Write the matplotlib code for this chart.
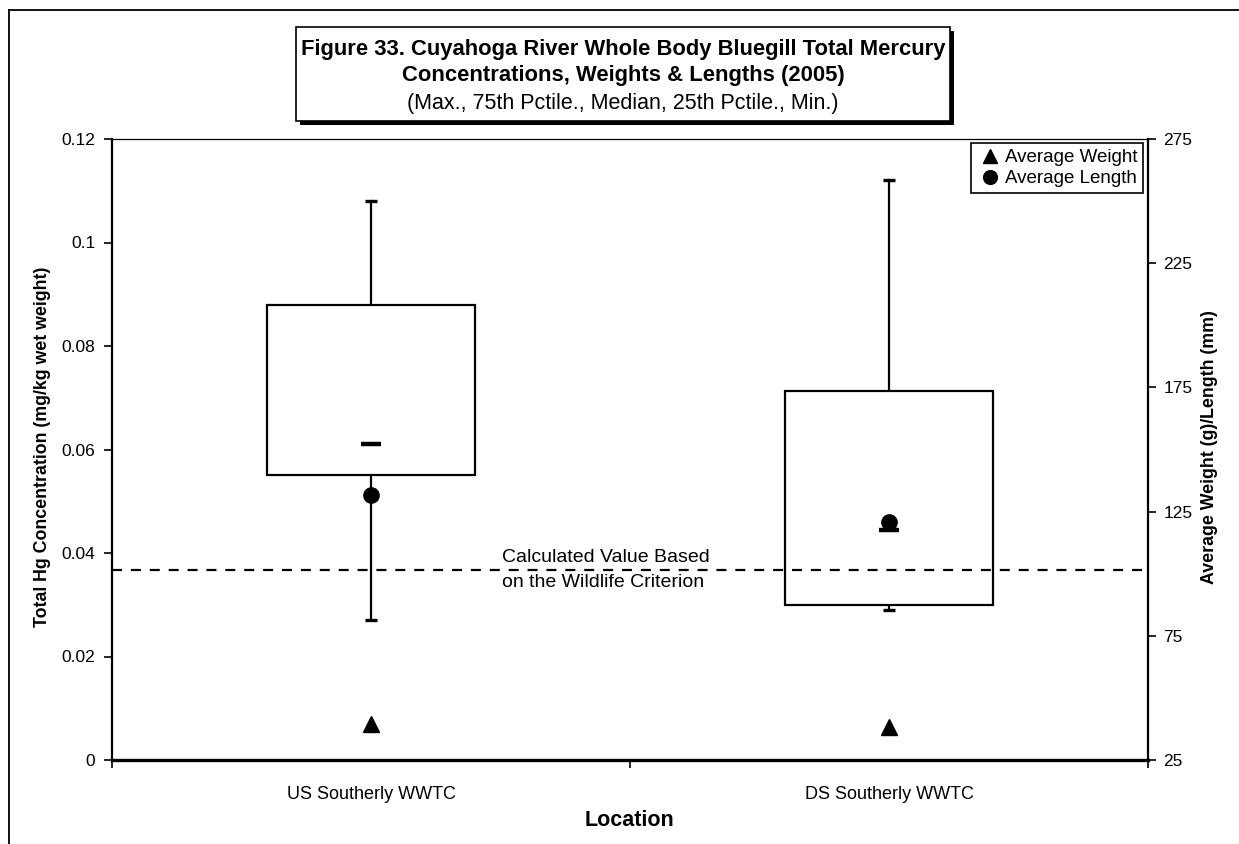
import matplotlib
matplotlib.use('Agg')
import matplotlib.pyplot as plt
from matplotlib.patches import Rectangle
from matplotlib.lines import Line2D

# ---- data ----
locations = ["US Southerly WWTC", "DS Southerly WWTC"]
hg_max = [0.108, 0.112]
hg_q75 = [0.088, 0.0713]
hg_median = [0.061, 0.0445]
hg_q25 = [0.055, 0.0300]
hg_min = [0.027, 0.029]
avg_weight = [39.6, 38.3]
avg_length = [131.6, 121.0]
criterion = 0.0367
left_ticks = [0, 0.02, 0.04, 0.06, 0.08, 0.1, 0.12]
left_tick_labels = ["0", "0.02", "0.04", "0.06", "0.08", "0.1", "0.12"]
right_ticks = [25, 75, 125, 175, 225, 275]

plt.rcParams['font.family'] = ['Liberation Sans', 'DejaVu Sans']

W, H = 1239, 844
fig = plt.figure(figsize=(W / 100, H / 100), dpi=100)
ax = fig.add_axes([112 / W, 1 - 760 / H, (1148 - 112) / W, (760 - 139) / H])
ax.set_xlim(0, 2)
ax.set_ylim(0, 0.12)

pos = [0.5, 1.5]
bw = 0.4
for i, p in enumerate(pos):
    ax.plot([p, p], [hg_q75[i], hg_max[i]], color='black', lw=1.6, zorder=1)
    ax.plot([p, p], [hg_min[i], hg_q25[i]], color='black', lw=1.6, zorder=1)
    ax.add_patch(Rectangle((p - bw / 2, hg_q25[i]), bw, hg_q75[i] - hg_q25[i],
                           facecolor='white', edgecolor='black', lw=1.6, zorder=2))
    ax.plot([p, p], [hg_max[i], hg_min[i]], linestyle='none', marker='_',
            markersize=8, mew=2.4, color='black', zorder=3)
    ax.plot([p], [hg_median[i]], linestyle='none', marker='_',
            markersize=15, mew=3.2, color='black', zorder=3)

ax.axhline(criterion, color='black', lw=1.6, linestyle=(0, (4.5, 4)), zorder=4)
ax.text(0.753, 0.0383, "Calculated Value Based", fontsize=14, va='baseline', ha='left', zorder=5)
ax.text(0.753, 0.0334, "on the Wildlife Criterion", fontsize=14, va='baseline', ha='left', zorder=5)

ax.set_yticks(left_ticks)
ax.set_yticklabels(left_tick_labels)
ax.set_xticks([0, 1, 2])
ax.set_xticklabels([])
ax.set_xticks(pos, minor=True)
ax.set_xticklabels(locations, minor=True)
ax.tick_params(axis='y', direction='out', length=6, width=1.2, labelsize=12.5, pad=6)
ax.tick_params(axis='x', which='major', direction='out', length=6, width=1.2)
ax.tick_params(axis='x', which='minor', length=0, labelsize=13, pad=19)

ax.spines['left'].set_linewidth(1.6)
ax.spines['bottom'].set_linewidth(2.4)
ax.spines['top'].set_linewidth(0.9)
ax.spines['right'].set_visible(False)

ax2 = ax.twinx()
ax2.set_ylim(25, 275)
ax2.set_yticks(right_ticks)
ax2.tick_params(axis='y', direction='out', length=6, width=1.2, labelsize=12.5, pad=5)
for s in ['left', 'top', 'bottom']:
    ax2.spines[s].set_visible(False)
ax2.spines['right'].set_linewidth(1.6)

ax2.plot(pos, avg_weight, linestyle='none', marker='^', markersize=11, color='black',
         label='Average Weight', zorder=6)
ax2.plot(pos, avg_length, linestyle='none', marker='o', markersize=11, color='black',
         label='Average Length', zorder=6)
leg = ax2.legend(loc='upper right', bbox_to_anchor=(0.995, 0.993), borderaxespad=0,
                 fontsize=13.5, frameon=True, fancybox=False, edgecolor='black',
                 framealpha=1, handlelength=1.4, handletextpad=0.1, borderpad=0.3,
                 labelspacing=0.22, markerscale=0.9)
leg.get_frame().set_linewidth(1.2)

# axis titles
fig.text(43 / W, 1 - 447 / H, "Total Hg Concentration (mg/kg wet weight)", rotation=90,
         ha='center', va='center', fontsize=12.8, fontweight='bold')
fig.text(1210 / W, 1 - 447 / H, "Average Weight (g)/Length (mm)", rotation=90,
         ha='center', va='center', fontsize=12.8, fontweight='bold')
fig.text(630 / W, 1 - 820 / H, "Location", ha='center', va='center', fontsize=15.5,
         fontweight='bold')

# outer frame
fig.add_artist(Line2D([9 / W, 9 / W], [0, 1 - 10 / H], transform=fig.transFigure,
                      color='black', lw=1.3))
fig.add_artist(Line2D([9 / W, 1], [1 - 10 / H, 1 - 10 / H], transform=fig.transFigure,
                      color='black', lw=1.3))

# title box with shadow
bx0, bx1, by0, by1 = 296, 950, 27, 121
fig.add_artist(Rectangle(((bx0 + 4) / W, 1 - (by1 + 4) / H), (bx1 - bx0) / W, (by1 - by0) / H,
                         transform=fig.transFigure, facecolor='black', edgecolor='black', lw=0))
fig.add_artist(Rectangle((bx0 / W, 1 - by1 / H), (bx1 - bx0) / W, (by1 - by0) / H,
                         transform=fig.transFigure, facecolor='white', edgecolor='black', lw=1.2))
cx = (bx0 + bx1) / 2 / W
fig.text(cx, 1 - 49 / H, "Figure 33. Cuyahoga River Whole Body Bluegill Total Mercury",
         ha='center', va='center', fontsize=15.8, fontweight='bold')
fig.text(cx, 1 - 76 / H, "Concentrations, Weights & Lengths (2005)",
         ha='center', va='center', fontsize=15.8, fontweight='bold')
fig.text(cx, 1 - 103 / H, "(Max., 75th Pctile., Median, 25th Pctile., Min.)",
         ha='center', va='center', fontsize=15.5)

fig.savefig('out.png', dpi=100)
